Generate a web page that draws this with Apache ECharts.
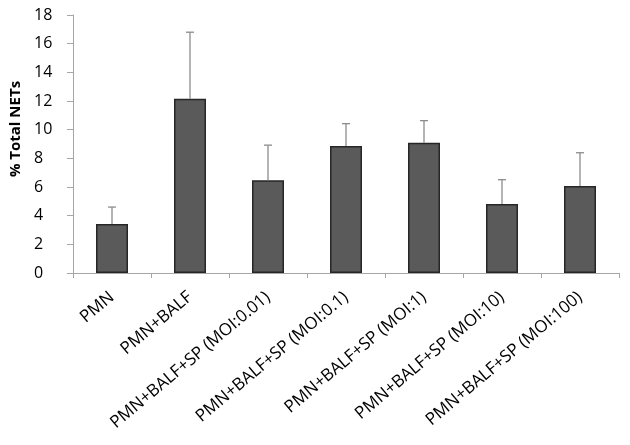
<!DOCTYPE html>
<html>
<head>
<meta charset="utf-8">
<script src="https://cdn.jsdelivr.net/npm/echarts@6/dist/echarts.min.js"></script>
<style>html,body{margin:0;padding:0;background:#fff}#c{width:630px;height:445px}</style>
</head>
<body>
<div id="c"></div>
<script>
var categories = ['PMN', 'PMN+BALF', 'PMN+BALF+SP (MOI:0.01)', 'PMN+BALF+SP (MOI:0.1)', 'PMN+BALF+SP (MOI:1)', 'PMN+BALF+SP (MOI:10)', 'PMN+BALF+SP (MOI:100)'];
var means = [3.42, 12.15, 6.47, 8.86, 9.09, 4.81, 6.07];
var errTops = [4.6, 16.8, 8.92, 10.42, 10.63, 6.51, 8.39];
var yTicks = [0, 2, 4, 6, 8, 10, 12, 14, 16, 18];

var chart = echarts.init(document.getElementById('c'));
var fontFam = 'Open Sans, Liberation Sans, sans-serif';
chart.setOption({
  animation: false,
  grid: { left: 73, right: 11, top: 15, bottom: 172, containLabel: false },
  xAxis: {
    type: 'category',
    data: categories,
    boundaryGap: true,
    axisLine: { lineStyle: { color: '#a6a6a6', width: 1 } },
    axisTick: { show: true, alignWithLabel: false, length: 5, lineStyle: { color: '#a6a6a6' } },
    axisLabel: { rotate: 40, interval: 0, color: '#000', fontSize: 17, fontFamily: fontFam, margin: 22 }
  },
  yAxis: {
    type: 'value',
    min: yTicks[0], max: yTicks[yTicks.length - 1], interval: 2,
    name: '% Total NETs',
    nameLocation: 'middle',
    nameGap: 42,
    nameTextStyle: { fontSize: 15, fontWeight: 'bold', color: '#000', fontFamily: fontFam, padding: [0, 0, 0, 30] },
    axisLine: { show: true, lineStyle: { color: '#a6a6a6' } },
    axisTick: { show: true, length: 6, lineStyle: { color: '#a6a6a6' } },
    splitLine: { show: false },
    axisLabel: { color: '#000', fontSize: 16, fontFamily: fontFam, margin: 39, align: 'left' }
  },
  series: [
    {
      type: 'bar',
      data: means,
      barWidth: 32,
      itemStyle: { color: '#5a5a5a', borderColor: '#262626', borderWidth: 1.5 },
      z: 2
    },
    {
      type: 'custom',
      z: 3,
      data: means.map(function (m, i) { return [i, m, errTops[i]]; }),
      renderItem: function (params, api) {
        var i = api.value(0);
        var base = api.coord([i, api.value(1)]);
        var top = api.coord([i, api.value(2)]);
        var hw = 4;
        return {
          type: 'group',
          children: [
            { type: 'line', shape: { x1: base[0], y1: base[1], x2: top[0], y2: top[1] }, style: { stroke: '#8c8c8c', lineWidth: 1.3 } },
            { type: 'line', shape: { x1: top[0] - hw, y1: top[1], x2: top[0] + hw, y2: top[1] }, style: { stroke: '#8c8c8c', lineWidth: 1.3 } }
          ]
        };
      }
    }
  ]
});
</script>
</body>
</html>
